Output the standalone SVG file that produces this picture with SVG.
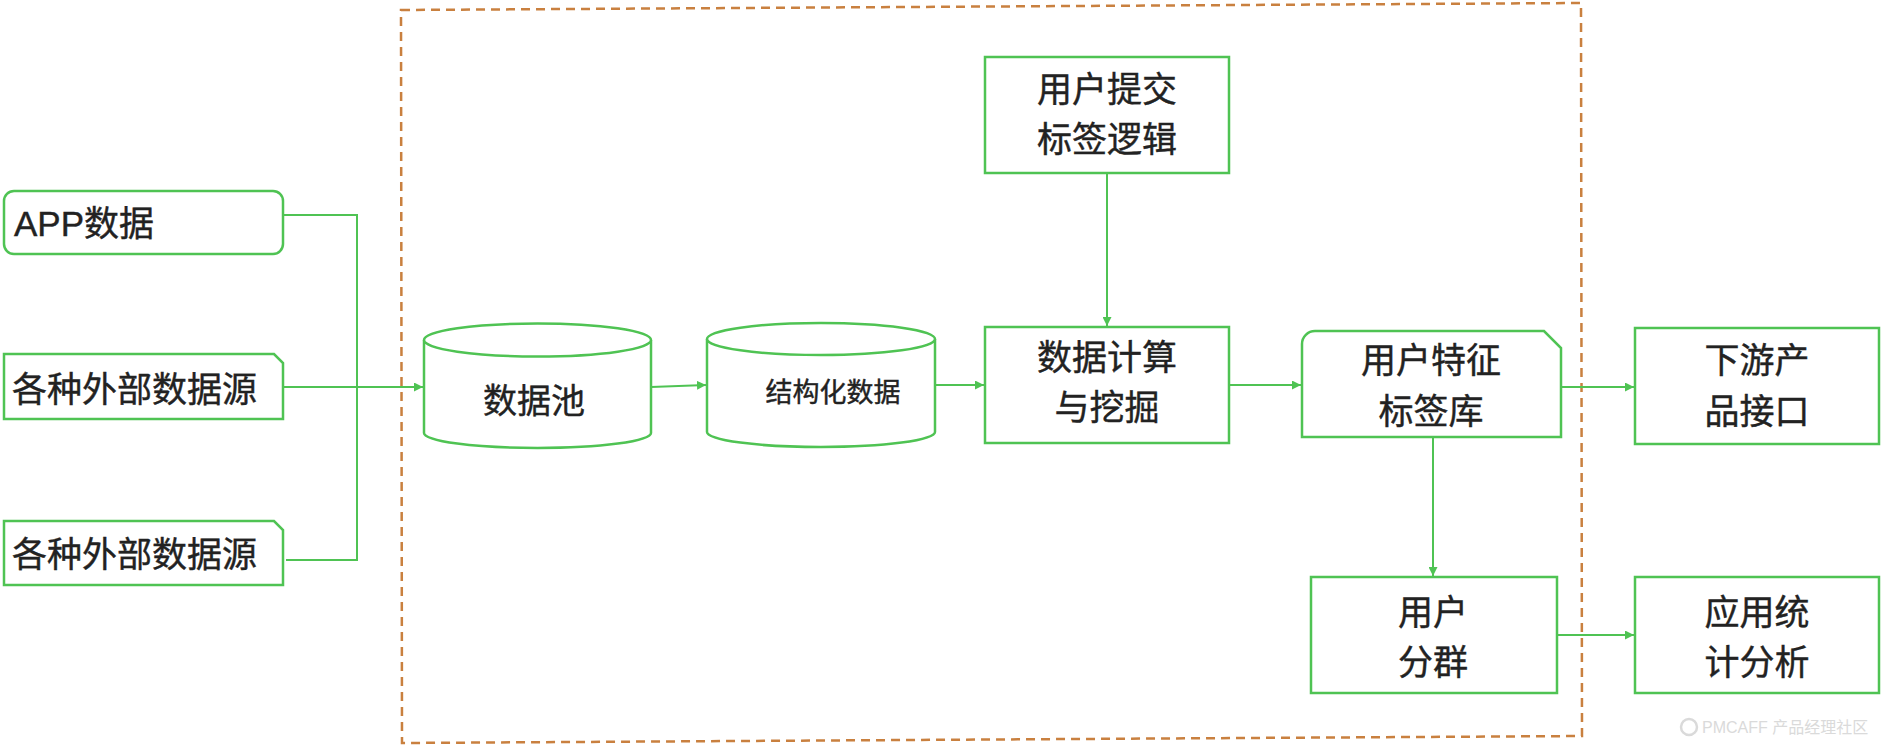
<svg xmlns="http://www.w3.org/2000/svg" width="1882" height="748" viewBox="0 0 1882 748">
  <style>
    .box { fill: #ffffff; stroke: #4fc353; stroke-width: 2.5; }
    .conn { fill: none; stroke: #4fc353; stroke-width: 2; }
    .lbl { font-family: "Liberation Sans", "Noto Sans CJK SC", sans-serif; font-size: 35px; fill: #222222; stroke: #222222; stroke-width: 0.4; text-anchor: middle; }
    .lbl-left { text-anchor: start; }
    .frame { fill: none; stroke: #c9803f; stroke-width: 2.5; stroke-dasharray: 9 6; }
    .wm { font-family: "Liberation Sans", "Noto Sans CJK SC", sans-serif; font-size: 16px; fill: #dadada; }
  </style>
  <defs>
    <marker id="arrow" viewBox="0 0 10 10" refX="10" refY="5" markerWidth="9" markerHeight="9" markerUnits="userSpaceOnUse" orient="auto">
      <path d="M0,0 L10,5 L0,10 Z" fill="#4fc353"/>
    </marker>
  </defs>

  <rect width="1882" height="748" fill="#ffffff"/>

  <!-- dashed boundary -->
  <polygon class="frame" points="401,10 1581,3 1582,736 402,743"/>

  <!-- connectors -->
  <g id="connectors">
    <path class="conn" d="M283,215 H358"/>
    <path class="conn" d="M357,215 V560"/>
    <path class="conn" d="M286,560 H358"/>
    <path class="conn" d="M283,387 H423" marker-end="url(#arrow)"/>
    <path class="conn" d="M651,387 L706,385" marker-end="url(#arrow)"/>
    <path class="conn" d="M935,385 H984" marker-end="url(#arrow)"/>
    <path class="conn" d="M1107,173 V326" marker-end="url(#arrow)"/>
    <path class="conn" d="M1229,385 H1301" marker-end="url(#arrow)"/>
    <path class="conn" d="M1561,387 H1634" marker-end="url(#arrow)"/>
    <path class="conn" d="M1433,437 V576" marker-end="url(#arrow)"/>
    <path class="conn" d="M1557,635 H1634" marker-end="url(#arrow)"/>
  </g>

  <g id="app-data">
    <rect class="box" x="4" y="191" width="279" height="63" rx="10"/>
    <text class="lbl lbl-left" x="14" y="236">APP数据</text>
  </g>

  <g id="ext-source-1">
    <path class="box" d="M4,354 H274 L283,363 V419 H4 Z"/>
    <text class="lbl lbl-left" x="12" y="402">各种外部数据源</text>
  </g>

  <g id="ext-source-2">
    <path class="box" d="M4,521 H274 L283,530 V585 H4 Z"/>
    <text class="lbl lbl-left" x="12" y="567">各种外部数据源</text>
  </g>

  <g id="data-pool">
    <path class="box" d="M424,340 L424,433 A113.5,15 0 0 0 651,433 L651,340"/>
    <ellipse class="box" cx="537.5" cy="340" rx="113.5" ry="16.5"/>
    <text class="lbl" x="534" y="413" style="font-size:34px">数据池</text>
  </g>

  <g id="structured-data">
    <path class="box" d="M707,339 L707,432 A114,15 0 0 0 935,432 L935,339"/>
    <ellipse class="box" cx="821" cy="339" rx="114" ry="16"/>
    <text class="lbl" x="833" y="402" style="font-size:27px">结构化数据</text>
  </g>

  <g id="user-tag-logic">
    <rect class="box" x="985" y="57" width="244" height="116"/>
    <text class="lbl" x="1107" y="102">用户提交</text>
    <text class="lbl" x="1107" y="152">标签逻辑</text>
  </g>

  <g id="compute-mining">
    <rect class="box" x="985" y="327" width="244" height="116"/>
    <text class="lbl" x="1107" y="370">数据计算</text>
    <text class="lbl" x="1107" y="420">与挖掘</text>
  </g>

  <g id="feature-tag-lib">
    <path class="box" d="M1302,344 A13,13 0 0 1 1315,331 H1544 L1561,348 V437 H1302 Z"/>
    <text class="lbl" x="1431" y="373">用户特征</text>
    <text class="lbl" x="1431" y="424">标签库</text>
  </g>

  <g id="downstream-api">
    <rect class="box" x="1635" y="328" width="244" height="116"/>
    <text class="lbl" x="1757" y="373">下游产</text>
    <text class="lbl" x="1757" y="424">品接口</text>
  </g>

  <g id="user-segment">
    <rect class="box" x="1311" y="577" width="246" height="116"/>
    <text class="lbl" x="1433" y="625">用户</text>
    <text class="lbl" x="1433" y="675">分群</text>
  </g>

  <g id="stat-analysis">
    <rect class="box" x="1635" y="577" width="244" height="116"/>
    <text class="lbl" x="1757" y="625">应用统</text>
    <text class="lbl" x="1757" y="675">计分析</text>
  </g>

  <g id="watermark">
    <circle cx="1689" cy="727" r="8" fill="none" stroke="#dadada" stroke-width="2.5"/>
    <text class="wm" x="1702" y="733">PMCAFF 产品经理社区</text>
  </g>
</svg>
